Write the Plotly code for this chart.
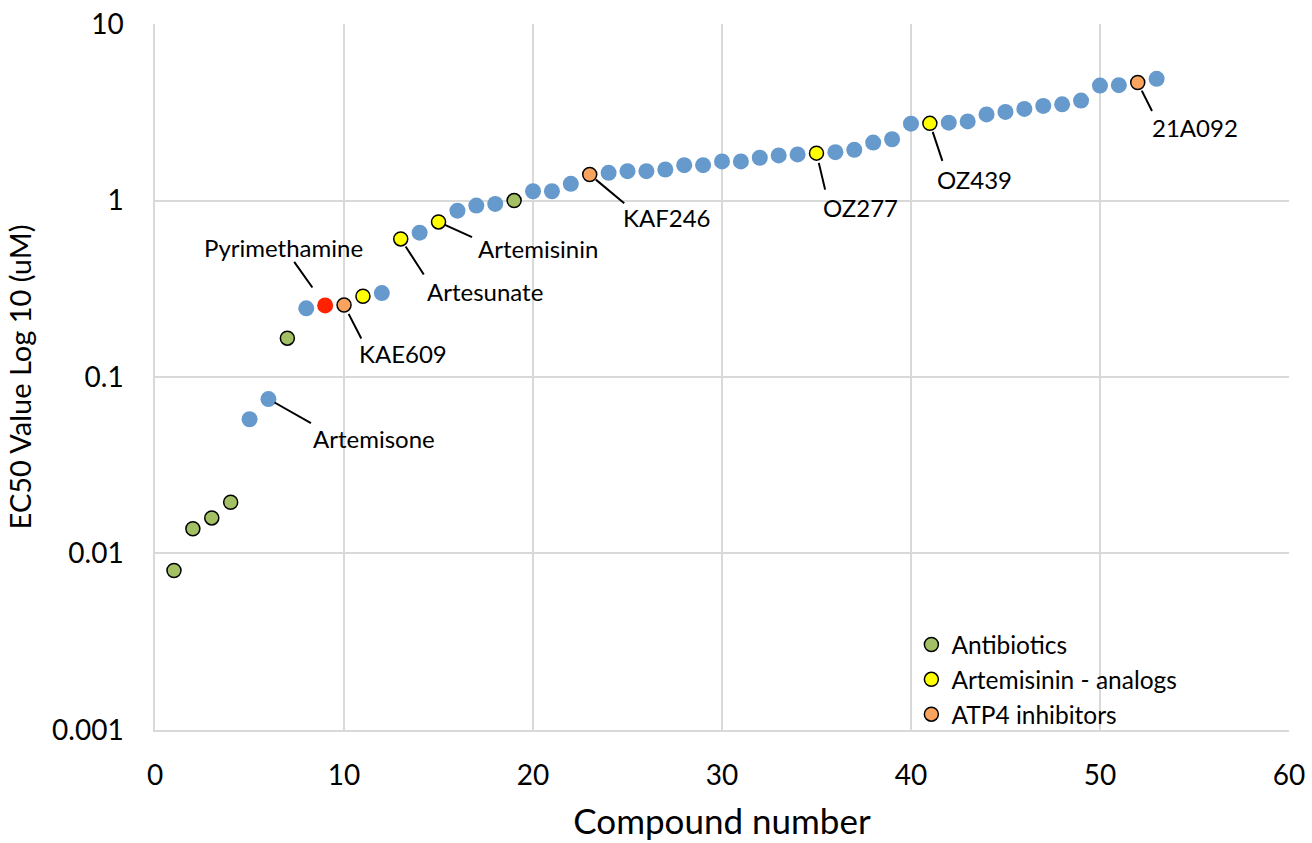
import math
import plotly.graph_objects as go

compound = list(range(1, 54))
ec50 = [0.0080, 0.0138, 0.0159, 0.0195, 0.0576, 0.075, 0.166, 0.245, 0.2545, 0.256,
        0.287, 0.299, 0.606, 0.658, 0.757, 0.877, 0.937, 0.957, 1.0, 1.129,
        1.129, 1.244, 1.405, 1.437, 1.467, 1.467, 1.50, 1.587, 1.587, 1.666,
        1.666, 1.748, 1.802, 1.826, 1.857, 1.88, 1.94, 2.131, 2.227, 2.728,
        2.739, 2.764, 2.811, 3.08, 3.18, 3.306, 3.439, 3.512, 3.686, 4.487,
        4.508, 4.667, 4.90]
category = ["Antibiotics"] * 4 + ["Other", "Other", "Antibiotics", "Other", "Pyrimethamine",
            "ATP4 inhibitors", "Artemisinin - analogs", "Other", "Artemisinin - analogs", "Other",
            "Artemisinin - analogs", "Other", "Other", "Other", "Antibiotics"] + \
           ["Other"] * 3 + ["ATP4 inhibitors"] + ["Other"] * 11 + ["Artemisinin - analogs"] + \
           ["Other"] * 5 + ["Artemisinin - analogs"] + ["Other"] * 10 + ["ATP4 inhibitors", "Other"]

labels = {6: "Artemisone", 9: "Pyrimethamine", 10: "KAE609", 13: "Artesunate",
          15: "Artemisinin", 23: "KAF246", 35: "OZ277", 41: "OZ439", 52: "21A092"}

x_ticks = [0, 10, 20, 30, 40, 50, 60]
y_ticks = [0.001, 0.01, 0.1, 1, 10]
y_tick_text = ["0.001", "0.01", "0.1", "1", "10"]

FONT = "Lato, 'Open Sans', sans-serif"

fig = go.Figure()

styles = [
    ("Other", "#6699cc", None, 16, False),
    ("Pyrimethamine", "#ff2200", None, 16, False),
    ("Antibiotics", "#a3c065", "black", 14, True),
    ("Artemisinin - analogs", "#ffff00", "black", 14, True),
    ("ATP4 inhibitors", "#f9a45e", "black", 14, True),
]
for i, (name, color, lc, size, show) in enumerate(styles):
    xs = [c for c, k in zip(compound, category) if k == name]
    ys = [v for v, k in zip(ec50, category) if k == name]
    fig.add_trace(go.Scatter(
        x=xs, y=ys, mode="markers", name=name, showlegend=show,
        legendgroup=f"g{i}",
        marker=dict(size=size, color=color,
                    line=dict(color=lc if lc else color, width=1.5 if lc else 0)),
    ))

# label placement: (text xshift, text yshift, arrow tail ax, ay, standoff)
place = {
    6: (106, -39, 44, 25, 7),
    9: (-42, 58, -32, -45, 22),
    10: (59, -49, 18, 35, 10),
    13: (84, -53, 24, 37, 9),
    15: (99, -27, 35, 16, 7),
    23: (77, -43, 36, 30, 8),
    35: (44, -54, 9, 38, 10),
    41: (45, -56, 13, 39, 9),
    52: (57, -45, 15, 30, 9),
}
for c, txt in labels.items():
    xs_, ys_, ax, ay, so = place[c]
    yv = math.log10(ec50[compound.index(c)])
    fig.add_annotation(x=c, y=yv, text="", showarrow=True, arrowhead=0,
                       arrowwidth=2, arrowcolor="black", ax=ax, ay=ay, standoff=so)
    fig.add_annotation(x=c, y=yv, text=txt, showarrow=False, xshift=xs_, yshift=ys_,
                       font=dict(family=FONT, size=24, color="black"))

fig.update_layout(
    width=1312, height=843,
    margin=dict(l=155, r=23, t=24, b=113, autoexpand=False),
    plot_bgcolor="white", paper_bgcolor="white",
    font=dict(family=FONT, color="black"),
    showlegend=True,
    legend=dict(x=0.667, y=-0.01, xanchor="left", yanchor="bottom",
                bgcolor="rgba(255,255,255,0)", font=dict(size=24.5, family=FONT),
                tracegroupgap=0),
    xaxis=dict(range=[-0.004, 60.004], tickvals=x_ticks,
               showgrid=True, gridcolor="#d9d9d9", gridwidth=1.5,
               zeroline=False, showline=True, linecolor="#d9d9d9", linewidth=1.5,
               ticks="", ticklabelstandoff=20, automargin=False,
               ticklabeloverflow="allow",
               tickfont=dict(size=28),
               title=dict(text="Compound number", font=dict(size=35), standoff=19)),
    yaxis=dict(type="log", range=[-3.0008, 1.0008], showgrid=True, gridcolor="#d9d9d9",
               gridwidth=1.5, zeroline=False, showline=True, linecolor="#d9d9d9", linewidth=1.5,
               ticks="", ticklabelstandoff=24, automargin=False,
               ticklabeloverflow="allow",
               tickvals=y_ticks, ticktext=y_tick_text,
               tickfont=dict(size=28),
               title=dict(text="EC50 Value Log 10 (uM)", font=dict(size=29), standoff=12)),
)

fig.write_html("out.html", config={"displayModeBar": False},
               post_script="document.body.style.margin='0';document.body.style.overflow='hidden';")
